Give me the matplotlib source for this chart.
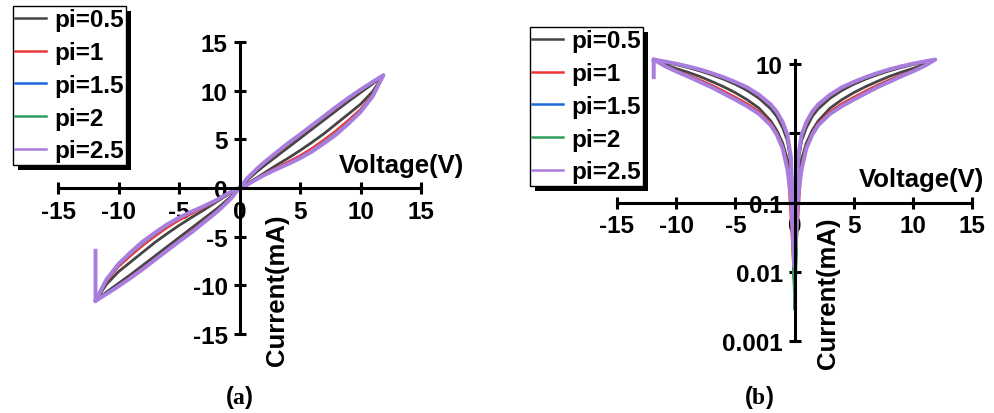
import numpy as np
import matplotlib.pyplot as plt
from matplotlib.patches import Rectangle
from matplotlib.transforms import IdentityTransform
from matplotlib.ticker import NullLocator

plt.rcParams['font.family'] = ['Liberation Sans', 'DejaVu Sans']
plt.rcParams['font.weight'] = 'bold'
plt.rcParams['mathtext.fontset'] = 'custom'
plt.rcParams['mathtext.rm'] = 'Liberation Serif'
plt.rcParams['mathtext.bf'] = 'Liberation Serif:bold'

labels = ['pi=0.5', 'pi=1', 'pi=1.5', 'pi=2', 'pi=2.5']
colors = ['#454545', '#ee3535', '#1f66dd', '#2e9e5e', '#a97ddd']
widths = [2.0, 1.4, 1.4, 1.8, 2.8]

# voltage points of one half loop (V)
v_grid = [0.3, 0.6, 1, 1.5, 2, 3, 4, 5, 6, 7, 8, 9, 10, 11, 11.9]
# current (mA) while the voltage rises (high resistance branch)
i_up = [
    [0.2, 0.42, 0.72, 1.1, 1.5, 2.3, 3.05, 3.85, 4.7, 5.6, 6.6, 7.6, 8.6, 9.9, 11.6],
    [0.05, 0.36, 0.66, 1.03, 1.41, 2.07, 2.7, 3.35, 4.12, 5.0, 5.95, 7.0, 8.12, 9.65, 11.6],
    [0.13, 0.31, 0.61, 0.97, 1.33, 1.95, 2.52, 3.15, 3.85, 4.75, 5.68, 6.75, 7.95, 9.5, 11.6],
    [0.125, 0.305, 0.605, 0.96, 1.31, 1.92, 2.48, 3.1, 3.8, 4.68, 5.6, 6.68, 7.88, 9.45, 11.6],
    [0.12, 0.3, 0.6, 0.95, 1.3, 1.9, 2.45, 3.05, 3.75, 4.6, 5.5, 6.6, 7.8, 9.4, 11.6],
]
# current (mA) while the voltage goes back (low resistance branch)
i_down = [
    [0.38, 0.78, 1.2, 1.75, 2.25, 3.2, 4.15, 5.1, 6.05, 7.0, 7.95, 8.9, 9.8, 10.7, 11.6],
    [0.42, 0.88, 1.36, 1.95, 2.48, 3.45, 4.45, 5.38, 6.32, 7.27, 8.2, 9.12, 10.0, 10.85, 11.6],
    [0.44, 0.92, 1.41, 2.0, 2.55, 3.55, 4.55, 5.45, 6.4, 7.35, 8.3, 9.2, 10.05, 10.88, 11.6],
    [0.445, 0.94, 1.43, 2.03, 2.58, 3.58, 4.58, 5.48, 6.43, 7.38, 8.33, 9.23, 10.08, 10.9, 11.6],
    [0.45, 0.95, 1.45, 2.05, 2.6, 3.6, 4.6, 5.5, 6.45, 7.4, 8.35, 9.25, 10.1, 10.9, 11.6],
]
# current at the zero crossing (mA) and where it happens (V)
i_zero = [0.05, 0.008, 0.017, 0.0028, 0.012]
v_zero = [0, -0.06, 0, 0.03, 0]
# first sample of the sweep
v_start = -11.9
i_start = -6.45


def loop(k):
    vg = np.array(v_grid)
    up = np.array(i_up[k])
    dn = np.array(i_down[k])
    v = np.concatenate([[v_start], -vg[::-1], [v_zero[k]], vg, vg[::-1], [v_zero[k]], -vg])
    i = np.concatenate([[i_start], -up[::-1], [i_zero[k]], up, dn[::-1], [i_zero[k]], -dn])
    return v, i


fig = plt.figure(figsize=(9.94, 4.14), dpi=100)
ax1 = fig.add_axes([58 / 994, 79 / 414, 363 / 994, 292 / 414])
ax2 = fig.add_axes([617 / 994, 72 / 414, 355 / 994, 281.2 / 414])

for k in range(5):
    v, i = loop(k)
    ax1.plot(v, i, color=colors[k], lw=widths[k], label=labels[k], clip_on=False)
    ax2.plot(v, np.abs(i), color=colors[k], lw=widths[k], label=labels[k], clip_on=False)

ticks = [-15, -10, -5, 0, 5, 10, 15]
for ax in (ax1, ax2):
    ax.set_facecolor('none')
    ax.spines['top'].set_visible(False)
    ax.spines['right'].set_visible(False)
    ax.spines['left'].set_position(('data', 0))
    ax.spines['left'].set_linewidth(2.2)
    ax.spines['bottom'].set_linewidth(2.2)
    ax.set_xlim(-15, 15)
    ax.set_xticks(ticks)
    ax.set_xticklabels([str(t) for t in ticks])
    ax.tick_params(direction='inout', length=9, width=2.2, labelsize=17.5, pad=4)

ax1.spines['bottom'].set_position(('data', 0))
ax1.set_ylim(-15, 15)
ax1.set_yticks(ticks)
ax1.set_yticklabels([str(t) for t in ticks])

ax2.set_yscale('log')
ax2.set_ylim(0.001, 11.5)
ax2.spines['bottom'].set_position(('data', 0.1))
ax2.set_yticks([0.001, 0.01, 0.1, 1, 10])
ax2.set_yticklabels(['0.001', '0.01', '0.1', '', '10'])
ax2.yaxis.set_minor_locator(NullLocator())

ax1.text(13.4, 2.36, 'Voltage(V)', ha='center', va='center', fontsize=18.5)
ax1.text(3.14, -10.4, 'Current(mA)', ha='center', va='center', rotation=90, fontsize=18.5)
ax2.text(10.7, 0.218, 'Voltage(V)', ha='center', va='center', fontsize=18.5)
ax2.text(2.87, 0.0051, 'Current(mA)', ha='center', va='center', rotation=90, fontsize=18.5)

legends = []
for ax, x, y in ((ax1, 13, 7), (ax2, 530, 28)):
    leg = ax.legend(loc='upper left', bbox_to_anchor=(x / 994, 1 - y / 414),
                    bbox_transform=fig.transFigure, fontsize=17.5, handlelength=1.25,
                    handletextpad=0.35, labelspacing=0.4, borderpad=0.1,
                    borderaxespad=0, fancybox=False, framealpha=1, edgecolor='black')
    leg.get_frame().set_linewidth(1.0)
    for h in leg.get_lines():
        h.set_linewidth(1.8)
    legends.append((ax, leg))

fig.text(239 / 994, 1 - 398 / 414, r'($\mathbf{a}$)', ha='center', va='center', fontsize=17)
fig.text(759 / 994, 1 - 398 / 414, r'($\mathbf{b}$)', ha='center', va='center', fontsize=17)

# black drop shadow behind each legend box
fig.canvas.draw()
for ax, leg in legends:
    bb = leg.get_frame().get_window_extent()
    ax.add_artist(Rectangle((bb.x0 + 5, bb.y0 - 5), bb.width, bb.height, facecolor='black',
                            edgecolor='none', transform=IdentityTransform(), zorder=4.9,
                            clip_on=False))

fig.savefig('out.png', dpi=100)
